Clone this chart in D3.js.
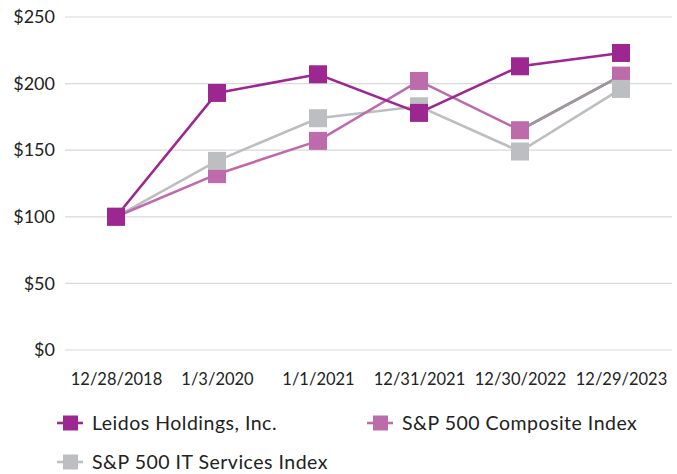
<!DOCTYPE html>
<html><head><meta charset="utf-8">
<script src="https://cdn.jsdelivr.net/npm/d3@7"></script>
<style>
html,body{margin:0;padding:0;background:#fff;}
svg{display:block;font-family:Lato,"Open Sans",sans-serif;}
</style></head>
<body>
<svg id="chart" width="677" height="474"></svg>
<script>
const categories = ["12/28/2018","1/3/2020","1/1/2021","12/31/2021","12/30/2022","12/29/2023"];
const leidos = [100,193,207,178,213,223];
const composite = [100,132,157,202,165,206];
const itServices = [100,142,174,183,149,196];
const yTicks = [0,50,100,150,200,250];
const seriesNames = ["Leidos Holdings, Inc.","S&P 500 Composite Index","S&P 500 IT Services Index"];
const seriesColors = ["#9c2790","#be6bac","#bdbec1"];

(function(){
const svg = d3.select("#chart");
const plotLeft = 65, plotRight = 672, plotTop = 17, plotBottom = 350;

const x = d3.scalePoint().domain(categories).range([116, 621]);
const y = d3.scaleLinear().domain([0,250]).range([plotBottom, plotTop]);

// gridlines
svg.append("g").selectAll("line").data(yTicks).join("line")
  .attr("x1", plotLeft).attr("x2", plotRight)
  .attr("y1", d=>y(d)).attr("y2", d=>y(d))
  .attr("stroke", "#d9d9d9").attr("stroke-width", 1.2);

// y labels
const yAxis = svg.append("g").attr("transform", `translate(${plotLeft},0)`)
  .call(d3.axisLeft(y).tickValues(yTicks).tickFormat(d=>"$"+d).tickSize(0).tickPadding(10));
yAxis.select(".domain").remove();
yAxis.selectAll("text").attr("font-size", 18).attr("fill", "#222").attr("font-family","Lato, sans-serif");

// x labels
const xAxis = svg.append("g").attr("transform", `translate(0,${plotBottom})`)
  .call(d3.axisBottom(x).tickSize(0).tickPadding(23));
xAxis.select(".domain").remove();
xAxis.selectAll("text").attr("font-size", 16.5).attr("fill", "#222").attr("font-family","Lato, sans-serif");

const itS = {name: seriesNames[2], values: itServices, color: seriesColors[2]};
const compS = {name: seriesNames[1], values: composite, color: seriesColors[1]};
const leiS = {name: seriesNames[0], values: leidos, color: seriesColors[0]};

const line = d3.line().x((d,i)=>x(categories[i])).y(d=>y(d));
const lineFrom = (start) => d3.line().x((d,i)=>x(categories[i+start])).y(d=>y(d));

[itS, compS, leiS].forEach(s => {
  svg.append("path").attr("d", line(s.values))
    .attr("fill","none").attr("stroke", s.color).attr("stroke-width", 2.6);
});
// darker segment on composite last leg
svg.append("path").attr("d", lineFrom(4)(composite.slice(4)))
  .attr("fill","none").attr("stroke","#999a9c").attr("stroke-width",2.6);

const ms = 18;
[compS, itS, leiS].forEach(s => {
  svg.append("g").selectAll("rect").data(s.values).join("rect")
    .attr("x",(d,i)=>x(categories[i])-ms/2).attr("y",d=>y(d)-ms/2)
    .attr("width",ms).attr("height",ms).attr("fill",s.color);
});

// legend
const legendItems = [
  {name: seriesNames[0], color: seriesColors[0], lx: 57, ly: 423},
  {name: seriesNames[1], color: seriesColors[1], lx: 367, ly: 423},
  {name: seriesNames[2], color: seriesColors[2], lx: 57, ly: 462}
];
const lg = svg.append("g").selectAll("g").data(legendItems).join("g")
  .attr("transform", d=>`translate(${d.lx},${d.ly})`);
lg.append("line").attr("x1",0).attr("x2",26).attr("y1",0).attr("y2",0)
  .attr("stroke",d=>d.color).attr("stroke-width",2.6);
lg.append("rect").attr("x",6).attr("y",-7.5).attr("width",15).attr("height",15).attr("fill",d=>d.color);
lg.append("text").attr("x",35).attr("y",0).attr("dy","0.36em")
  .attr("font-size",19.5).attr("letter-spacing","0.5px").attr("fill","#222").text(d=>d.name);
})();
</script>
</body></html>
